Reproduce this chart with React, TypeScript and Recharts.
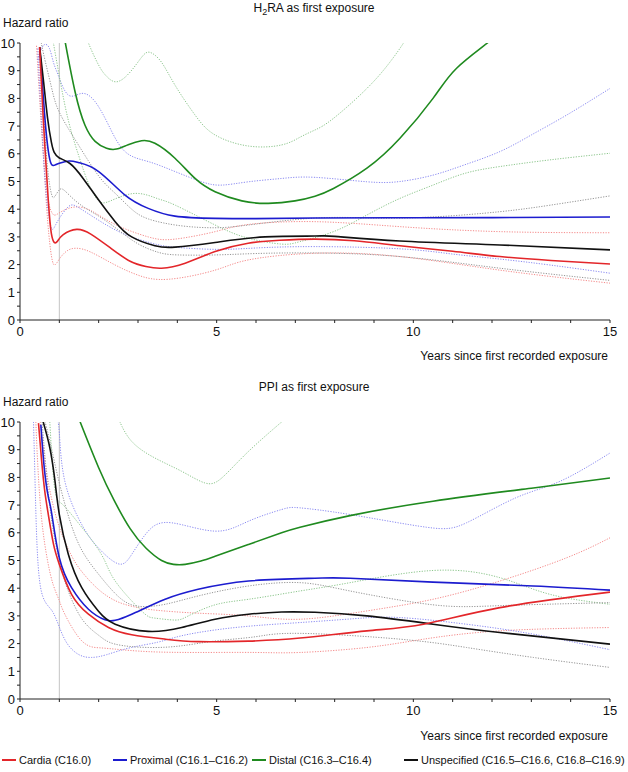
import React from "react";
import { Line, LineChart, ReferenceLine, XAxis, YAxis } from "recharts";

type Pt = [number, number];

// years since first recorded exposure -> hazard ratio
const yearTicks = [0, 1, 2, 3, 4, 5, 6, 7, 8, 9, 10, 11, 12, 13, 14, 15];
const hrTicks = [0, 0.5, 1, 1.5, 2, 2.5, 3, 3.5, 4, 4.5, 5, 5.5, 6, 6.5, 7, 7.5, 8, 8.5, 9, 9.5, 10];

// ---- H2RA as first exposure ----
const h2raCardia: Pt[] = [[0.5, 9.85], [0.59, 7.3], [0.72, 4.3], [0.8, 3.1], [0.87, 2.8], [0.95, 2.84], [1.1, 3.08], [1.44, 3.27], [1.8, 3.1], [2.3, 2.6], [2.8, 2.12], [3.2, 1.93], [3.6, 1.87], [4.2, 2.05], [4.96, 2.47], [5.8, 2.77], [6.6, 2.88], [7.5, 2.92], [8.5, 2.86], [9.66, 2.68], [11, 2.48], [12.2, 2.29], [13.5, 2.15], [15, 2.02]];
const h2raCardiaLo: Pt[] = [[0.48, 9.8], [0.58, 6.5], [0.68, 4.0], [0.78, 2.5], [0.87, 1.99], [1.0, 2.2], [1.2, 2.5], [1.44, 2.59], [1.8, 2.45], [2.4, 2.0], [3.0, 1.62], [3.77, 1.47], [4.96, 1.8], [5.81, 2.17], [7.5, 2.41], [9.66, 2.29], [12.2, 1.8], [15, 1.33]];
const h2raCardiaHi: Pt[] = [[0.42, 9.9], [0.52, 7.5], [0.62, 5.5], [0.72, 4.3], [0.82, 3.85], [0.92, 3.8], [1.1, 3.95], [1.4, 4.08], [1.8, 3.95], [2.42, 3.45], [3.26, 3.0], [3.94, 2.92], [4.96, 3.19], [5.81, 3.45], [7.5, 3.55], [9.66, 3.37], [12.2, 3.19], [15, 3.15]];
const h2raProximal: Pt[] = [[0.5, 9.85], [0.58, 8.3], [0.65, 7.0], [0.72, 6.1], [0.8, 5.62], [0.9, 5.6], [1.0, 5.66], [1.25, 5.74], [1.5, 5.68], [2.0, 5.36], [2.67, 4.51], [3.26, 4.03], [3.94, 3.75], [4.96, 3.67], [6, 3.66], [7.5, 3.68], [10, 3.69], [12.5, 3.7], [15, 3.72]];
const h2raProximalLo: Pt[] = [[0.45, 9.8], [0.55, 7.0], [0.65, 4.8], [0.75, 3.6], [0.83, 3.27], [0.95, 3.55], [1.23, 4.09], [1.5, 4.05], [2.0, 3.6], [2.5, 3.2], [3.0, 2.92], [3.5, 2.72], [4.0, 2.62], [5, 2.55], [6, 2.6], [7.5, 2.65], [9.66, 2.57], [11, 2.38], [12.2, 2.2], [13.5, 1.98], [15, 1.69]];
const h2raProximalHi: Pt[] = [[0.45, 9.4], [0.55, 9.8], [0.64, 9.95], [0.75, 9.8], [0.85, 9.3], [0.97, 8.84], [1.23, 8.12], [1.57, 8.18], [1.91, 7.88], [2.25, 7.04], [2.67, 6.08], [3.26, 5.72], [3.94, 5.36], [4.62, 4.99], [5.13, 4.87], [5.81, 4.99], [6.65, 5.11], [7.5, 5.15], [8.82, 4.99], [9.66, 5.0], [10.5, 5.23], [11.3, 5.6], [12.2, 6.08], [13, 6.68], [13.9, 7.4], [15, 8.36]];
const h2raDistal: Pt[] = [[1.1, 10.4], [1.16, 9.95], [1.4, 8.24], [1.65, 7.04], [1.91, 6.45], [2.2, 6.2], [2.45, 6.17], [2.75, 6.33], [3.09, 6.47], [3.43, 6.38], [3.94, 5.84], [4.45, 5.11], [4.96, 4.63], [5.64, 4.3], [6.31, 4.21], [6.99, 4.3], [7.5, 4.47], [7.97, 4.75], [8.82, 5.48], [9.66, 6.56], [10.5, 8.0], [11.1, 9.09], [11.9, 10.02], [12.1, 10.35]];
const h2raDistalLo: Pt[] = [[0.8, 10.4], [1.0, 8.8], [1.23, 7.2], [1.5, 5.9], [1.75, 4.9], [2.0, 4.3], [2.3, 4.3], [2.92, 4.57], [3.5, 4.38], [3.94, 4.15], [4.96, 3.43], [5.81, 2.95], [6.65, 2.74], [7.12, 2.83], [7.97, 3.19], [8.82, 3.79], [9.66, 4.39], [10.5, 4.87], [11.3, 5.29], [12.2, 5.54], [13.47, 5.78], [15, 6.02]];
const h2raDistalHi: Pt[] = [[1.6, 10.6], [1.74, 10.0], [2.0, 9.2], [2.2, 8.8], [2.46, 8.6], [2.8, 8.95], [3.1, 9.5], [3.31, 9.66], [3.6, 9.3], [3.94, 8.48], [4.45, 7.4], [4.96, 6.68], [5.81, 6.28], [6.65, 6.32], [7.12, 6.6], [7.5, 6.86], [7.97, 7.28], [8.82, 8.36], [9.4, 9.3], [9.75, 10.0], [9.9, 10.4]];
const h2raUnspec: Pt[] = [[0.5, 9.85], [0.6, 8.6], [0.7, 7.3], [0.8, 6.4], [0.87, 6.05], [1.0, 5.85], [1.27, 5.65], [1.6, 5.12], [2.0, 4.33], [2.42, 3.55], [2.84, 3.0], [3.43, 2.68], [3.94, 2.63], [4.96, 2.8], [6.23, 3.0], [7.5, 3.03], [8, 3.02], [9.66, 2.85], [12.2, 2.71], [15, 2.53]];
const h2raUnspecLo: Pt[] = [[0.5, 9.8], [0.6, 7.5], [0.7, 5.5], [0.8, 4.55], [0.88, 4.45], [1.0, 4.7], [1.15, 4.65], [1.5, 4.2], [2.0, 3.75], [2.5, 3.25], [3.0, 2.75], [3.5, 2.45], [4.0, 2.35], [5.0, 2.35], [6.0, 2.4], [7.5, 2.42], [9.66, 2.29], [12.2, 1.87], [15, 1.43]];
const h2raUnspecHi: Pt[] = [[0.52, 10.2], [0.6, 9.6], [0.8, 8.4], [1.0, 7.5], [1.45, 6.4], [2.0, 5.2], [2.4, 4.6], [2.8, 4.05], [3.26, 3.65], [4.1, 3.4], [4.96, 3.33], [5.81, 3.43], [7.5, 3.68], [9, 3.68], [10.5, 3.72], [12.2, 3.91], [13.5, 4.15], [15, 4.48]];

// ---- PPI as first exposure ----
const ppiCardia: Pt[] = [[0.47, 9.96], [0.55, 8.6], [0.63, 7.5], [0.72, 6.66], [0.85, 5.6], [1.0, 4.86], [1.31, 3.78], [1.74, 3.06], [2.25, 2.58], [2.84, 2.32], [3.69, 2.16], [4.53, 2.07], [5.81, 2.09], [7.12, 2.2], [8.82, 2.46], [10.26, 2.7], [12.2, 3.3], [15, 3.86]];
const ppiCardiaLo: Pt[] = [[0.4, 10.1], [0.45, 8.5], [0.55, 6.5], [0.7, 5.0], [0.85, 4.1], [1.0, 3.55], [1.14, 3.06], [1.57, 2.1], [2.0, 1.85], [2.42, 1.8], [3.26, 1.71], [4.5, 1.68], [6, 1.68], [7.12, 1.68], [8.82, 1.86], [10.26, 2.16], [12.2, 2.46], [15, 2.58]];
const ppiCardiaHi: Pt[] = [[0.5, 10.2], [0.6, 9.0], [0.75, 7.6], [1.0, 6.2], [1.3, 5.2], [1.57, 4.6], [2.0, 3.95], [2.5, 3.5], [3.0, 3.3], [3.5, 3.2], [4.5, 3.1], [5.8, 3.0], [7.12, 2.88], [8.82, 3.18], [10.5, 3.6], [12.2, 4.26], [13.9, 5.1], [15, 5.82]];
const ppiProximal: Pt[] = [[0.53, 9.9], [0.62, 8.3], [0.72, 7.3], [0.81, 6.66], [1.0, 5.1], [1.31, 4.02], [1.74, 3.24], [2.16, 2.86], [2.42, 2.84], [2.84, 3.06], [3.69, 3.6], [4.53, 3.96], [5.81, 4.26], [7.5, 4.36], [8.39, 4.36], [10.5, 4.22], [13.05, 4.08], [15, 3.93]];
const ppiProximalLo: Pt[] = [[0.34, 10.2], [0.38, 8.0], [0.42, 6.0], [0.48, 4.5], [0.58, 3.7], [0.72, 3.35], [0.85, 3.1], [1.0, 2.6], [1.2, 2.0], [1.5, 1.6], [1.82, 1.5], [2.2, 1.6], [2.8, 1.85], [3.5, 2.05], [4.1, 2.28], [5.0, 2.5], [6.0, 2.65], [7.12, 2.76], [8.5, 2.9], [9.66, 2.94], [11.35, 2.7], [13.05, 2.34], [15, 1.78]];
const ppiProximalHi: Pt[] = [[0.93, 10.3], [1.0, 9.6], [1.14, 7.86], [1.57, 6.3], [1.99, 5.46], [2.5, 4.88], [2.84, 5.22], [3.26, 6.06], [3.86, 6.36], [4.96, 6.06], [5.81, 6.42], [6.65, 6.84], [7.12, 6.9], [8.39, 6.66], [10.34, 6.2], [11.35, 6.36], [12.6, 7.26], [13.73, 7.86], [15, 8.88]];
const ppiDistal: Pt[] = [[1.42, 10.4], [1.53, 10.0], [2.0, 8.35], [2.4, 7.15], [2.8, 6.15], [3.2, 5.45], [3.6, 5.0], [3.9, 4.86], [4.2, 4.86], [4.6, 4.98], [4.96, 5.15], [5.81, 5.58], [6.65, 6.0], [7.12, 6.2], [8.39, 6.62], [10.5, 7.14], [13.05, 7.62], [15, 7.98]];
const ppiDistalLo: Pt[] = [[0.75, 10.2], [0.85, 8.0], [0.95, 7.2], [1.1, 7.0], [1.4, 6.5], [1.57, 6.2], [2.07, 5.22], [2.42, 4.26], [3.09, 3.18], [3.43, 2.92], [3.94, 2.85], [4.28, 3.0], [4.96, 3.4], [5.81, 3.6], [7.12, 3.9], [8.39, 4.2], [10.5, 4.64], [12.2, 4.38], [13.47, 3.78], [15, 3.42]];
const ppiDistalHi: Pt[] = [[2.42, 10.35], [2.54, 10.0], [2.84, 9.3], [3.43, 8.7], [4.11, 8.22], [4.7, 7.8], [5.13, 7.98], [5.81, 8.94], [6.65, 10.0], [6.8, 10.2]];
const ppiUnspec: Pt[] = [[0.59, 10.0], [0.76, 9.06], [0.89, 7.86], [1.0, 6.66], [1.23, 5.22], [1.57, 4.02], [1.99, 3.18], [2.42, 2.7], [3.26, 2.44], [4.11, 2.58], [4.96, 2.88], [5.81, 3.06], [6.65, 3.14], [7.5, 3.13], [8.82, 3.0], [10.5, 2.7], [12.2, 2.4], [15, 1.98]];
const ppiUnspecLo: Pt[] = [[0.55, 10.2], [0.65, 8.5], [0.8, 6.5], [1.0, 5.0], [1.2, 4.0], [1.57, 2.9], [2.0, 2.3], [2.42, 1.98], [3.26, 1.86], [4.1, 1.92], [5, 2.1], [6, 2.25], [7.12, 2.37], [9.66, 2.16], [11.35, 1.86], [13.05, 1.5], [15, 1.14]];
const ppiUnspecHi: Pt[] = [[0.6, 10.2], [0.76, 9.3], [1.0, 7.8], [1.3, 6.3], [1.6, 5.3], [2.0, 4.5], [2.5, 3.7], [3.0, 3.35], [3.69, 3.42], [4.53, 3.72], [5.81, 4.08], [7.12, 4.2], [8.39, 3.9], [10.5, 3.4], [12.2, 3.37], [15, 3.48]];

const RED = "#e3262a";
const BLUE = "#1c1ccf";
const GREEN = "#1f8a1f";
const BLACK = "#111111";

const legendItems = [
  { label: "Cardia (C16.0)", color: RED, x: 2 },
  { label: "Proximal (C16.1\u2013C16.2)", color: BLUE, x: 113 },
  { label: "Distal (C16.3\u2013C16.4)", color: GREEN, x: 252 },
  { label: "Unspecified (C16.5\u2013C16.6, C16.8\u2013C16.9)", color: BLACK, x: 404 },
];

interface Series {
  id: string;
  pts: Pt[];
  color: string;
  dotted?: boolean;
}

const font = '"Liberation Sans", Arial, Helvetica, sans-serif';

function ciColor(c: string): string {
  if (c === RED) return "#f58a8a";
  if (c === BLUE) return "#8a8af2";
  if (c === GREEN) return "#8cc68c";
  return "#959595";
}

function Panel({ series }: { series: Series[] }) {
  const ordered = [...series.filter((s) => s.dotted), ...series.filter((s) => !s.dotted)];
  return (
    <LineChart width={628} height={350} margin={{ top: 43, right: 18, bottom: 0, left: 0 }}>
      <XAxis
        type="number"
        dataKey="x"
        domain={[0, 15]}
        ticks={yearTicks}
        interval={0}
        allowDataOverflow
        tickSize={3}
        tickMargin={4}
        height={30}
        stroke="#222"
        tick={{ fill: "#111", fontSize: 13, fontFamily: font }}
        tickFormatter={(v: number) => (v % 5 === 0 ? String(v) : "")}
      />
      <YAxis
        type="number"
        dataKey="y"
        domain={[0, 10]}
        ticks={hrTicks}
        interval={0}
        allowDataOverflow
        width={20}
        tickSize={3}
        tickMargin={2}
        stroke="#222"
        tick={{ fill: "#111", fontSize: 13, fontFamily: font }}
        tickFormatter={(v: number) => (Number.isInteger(v) ? String(v) : "")}
      />
      <ReferenceLine x={1} stroke="#c4c4c4" strokeWidth={1} ifOverflow="hidden" />
      {ordered.map((s) => (
        <Line
          key={s.id}
          data={s.pts.map(([x, y]) => ({ x, y }))}
          dataKey="y"
          type="natural"
          dot={false}
          activeDot={false}
          isAnimationActive={false}
          stroke={s.dotted ? ciColor(s.color) : s.color}
          strokeWidth={s.dotted ? 1 : 1.6}
          strokeDasharray={s.dotted ? "1.2 1.4" : undefined}
          legendType="none"
        />
      ))}
    </LineChart>
  );
}

const h2raSeries: Series[] = [
  { id: "cl", pts: h2raCardiaLo, color: RED, dotted: true },
  { id: "ch", pts: h2raCardiaHi, color: RED, dotted: true },
  { id: "pl", pts: h2raProximalLo, color: BLUE, dotted: true },
  { id: "ph", pts: h2raProximalHi, color: BLUE, dotted: true },
  { id: "dl", pts: h2raDistalLo, color: GREEN, dotted: true },
  { id: "dh", pts: h2raDistalHi, color: GREEN, dotted: true },
  { id: "ul", pts: h2raUnspecLo, color: BLACK, dotted: true },
  { id: "uh", pts: h2raUnspecHi, color: BLACK, dotted: true },
  { id: "d", pts: h2raDistal, color: GREEN },
  { id: "p", pts: h2raProximal, color: BLUE },
  { id: "u", pts: h2raUnspec, color: BLACK },
  { id: "c", pts: h2raCardia, color: RED },
];

const ppiSeries: Series[] = [
  { id: "cl", pts: ppiCardiaLo, color: RED, dotted: true },
  { id: "ch", pts: ppiCardiaHi, color: RED, dotted: true },
  { id: "pl", pts: ppiProximalLo, color: BLUE, dotted: true },
  { id: "ph", pts: ppiProximalHi, color: BLUE, dotted: true },
  { id: "dl", pts: ppiDistalLo, color: GREEN, dotted: true },
  { id: "dh", pts: ppiDistalHi, color: GREEN, dotted: true },
  { id: "ul", pts: ppiUnspecLo, color: BLACK, dotted: true },
  { id: "uh", pts: ppiUnspecHi, color: BLACK, dotted: true },
  { id: "d", pts: ppiDistal, color: GREEN },
  { id: "p", pts: ppiProximal, color: BLUE },
  { id: "u", pts: ppiUnspec, color: BLACK },
  { id: "c", pts: ppiCardia, color: RED },
];

const textStyle: React.CSSProperties = {
  position: "absolute",
  fontFamily: font,
  fontSize: 12,
  lineHeight: "14px",
  color: "#111",
  whiteSpace: "nowrap",
};

export default function App() {
  return (
    <div style={{ position: "absolute", left: 0, top: 0, width: 628, height: 772, background: "#fff", overflow: "hidden" }}>
      <div style={{ ...textStyle, left: 0, width: 628, top: 1, textAlign: "center" }}>
        H<sub style={{ fontSize: 9, lineHeight: 0, verticalAlign: -3 }}>2</sub>RA as first exposure
      </div>
      <div style={{ ...textStyle, left: 3, top: 16 }}>Hazard ratio</div>
      <div style={{ position: "absolute", left: 0, top: 0 }}>
        <Panel series={h2raSeries} />
      </div>
      <div style={{ ...textStyle, right: 20, top: 349 }}>Years since first recorded exposure</div>

      <div style={{ ...textStyle, left: 0, width: 628, top: 380, textAlign: "center" }}>PPI as first exposure</div>
      <div style={{ ...textStyle, left: 3, top: 395 }}>Hazard ratio</div>
      <div style={{ position: "absolute", left: 0, top: 379 }}>
        <Panel series={ppiSeries} />
      </div>
      <div style={{ ...textStyle, right: 20, top: 729 }}>Years since first recorded exposure</div>

      {legendItems.map((it) => (
        <div key={it.label} style={{ ...textStyle, left: it.x, top: 753, fontSize: 11, display: "flex", alignItems: "center" }}>
          <span style={{ display: "inline-block", width: 14, height: 2, background: it.color, marginRight: 3 }} />
          {it.label}
        </div>
      ))}
    </div>
  );
}
